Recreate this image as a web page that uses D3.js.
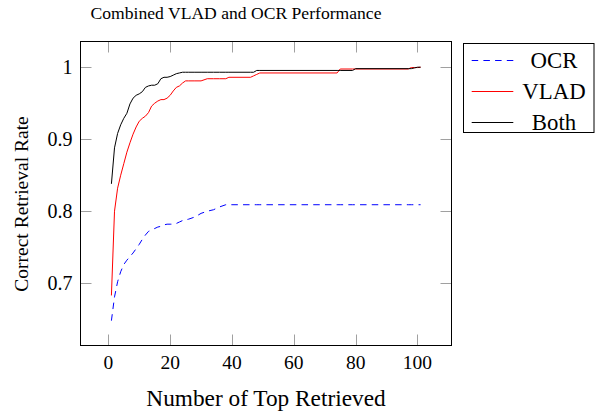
<!DOCTYPE html>
<html><head><meta charset="utf-8">
<script src="https://cdn.jsdelivr.net/npm/d3@7"></script>
<style>body{margin:0;background:#fff}svg{display:block}</style>
</head><body>
<script>
const rank = [1,2,3,4,5,6,7,8,9,10,11,12,13,14,15,16,17,18,19,20,21,22,23,24,25,26,28,30,32,34,36,38,39,46,47,48,49,74,75,79,80,97,98,99,100,101];
const ocr  = [.648,.681,.702,.716,.726,.732,.737,.742,.748,.754,.761,.767,.772,.774,.776,.778,.779,.781,.782,.782,.782,.783,.785,.787,.788,.789,.792,.797,.800,.802,.806,.809,.809,.809,.809,.809,.809,.809,.809,.809,.809,.809,.809,.809,.809,.809];
const vlad = [.683,.800,.832,.850,.866,.882,.895,.907,.917,.925,.929,.932,.937,.946,.950,.953,.955,.955,.957,.961,.967,.972,.974,.978,.981,.981,.981,.981,.984,.984,.984,.984,.986,.986,.988,.990,.992,.992,.9975,.9975,.9975,.9975,.9995,.9995,.9995,1.0];
const both = [.838,.888,.908,.920,.929,.936,.949,.957,.961,.963,.966,.972,.974,.975,.975,.977,.984,.986,.986,.987,.989,.991,.992,.993,.993,.993,.993,.993,.993,.993,.993,.993,.993,.993,.993,.9955,.9955,.9955,.9955,.9955,.998,.998,.998,.999,1.0,1.0];
const xTicks = [0,20,40,60,80,100];
const yTicks = [0.7,0.8,0.9,1];
const seriesNames = ["OCR","VLAD","Both"];
const seriesColors = ["#0000ff","#ff0000","#000000"];
const titleText = "Combined VLAD and OCR Performance";
const xLabel = "Number of Top Retrieved";
const yLabel = "Correct Retrieval Rate";

const FONT = "Liberation Serif, Times New Roman, Times, DejaVu Serif, serif";
const W=605,H=417;
const L=80.5,R=451.5,T=41.5,B=345.5;
const svg=d3.select("body").append("svg").attr("width",W).attr("height",H)
  .attr("font-family",FONT);
const x=d3.scaleLinear().domain([-9,111]).range([L,R]);
const y=d3.scaleLinear().domain([0.6135,1.0357]).range([B,T]);

const tl=11, tc="#a0a0a0";
const gx=svg.append("g");
xTicks.forEach(v=>{
  const px=Math.round(x(v))+0.5;
  gx.append("line").attr("x1",px).attr("x2",px).attr("y1",B).attr("y2",B-tl).attr("stroke",tc);
  gx.append("line").attr("x1",px).attr("x2",px).attr("y1",T).attr("y2",T+tl).attr("stroke",tc);
  gx.append("text").attr("font-family",FONT).attr("x",x(v)).attr("y",368.5).attr("text-anchor","middle").attr("font-size",19.5).text(v);
});
yTicks.forEach(v=>{
  const py=Math.round(y(v))+0.5;
  gx.append("line").attr("x1",L).attr("x2",L+tl).attr("y1",py).attr("y2",py).attr("stroke",tc);
  gx.append("line").attr("x1",R).attr("x2",R-tl).attr("y1",py).attr("y2",py).attr("stroke",tc);
  gx.append("text").attr("font-family",FONT).attr("x",72.5).attr("y",y(v)).attr("dy","0.35em").attr("text-anchor","end").attr("font-size",20).text(d3.format("")(v));
});

const line=d3.line().x((d,i)=>x(rank[i])).y(d=>y(d));
const data=[ocr,vlad,both];
data.forEach((s,k)=>{
  svg.append("path").attr("d",line(s)).attr("fill","none").attr("stroke",seriesColors[k]).attr("stroke-width",1)
    .attr("stroke-dasharray",k===0?"6.5,5.2":null);
});

svg.append("rect").attr("x",L).attr("y",T).attr("width",R-L).attr("height",B-T).attr("fill","none").attr("stroke","#000").attr("stroke-width",1);

svg.append("text").attr("font-family",FONT).attr("x",236).attr("y",19).attr("text-anchor","middle").attr("font-size",17.6).text(titleText);
svg.append("text").attr("font-family",FONT).attr("x",266).attr("y",406).attr("text-anchor","middle").attr("font-size",23.3).text(xLabel);
svg.append("text").attr("font-family",FONT).attr("transform","translate(28,204) rotate(-90)").attr("text-anchor","middle").attr("font-size",19.5).text(yLabel);

const lg=svg.append("g");
lg.append("rect").attr("x",463.5).attr("y",43.5).attr("width",130.5).attr("height",89).attr("fill","#fff").attr("stroke","#000");
const rowY=[60.5,91.5,122.5];
seriesNames.forEach((n,k)=>{
  lg.append("line").attr("x1",471.7).attr("x2",513.3).attr("y1",rowY[k]).attr("y2",rowY[k]).attr("stroke",seriesColors[k]).attr("stroke-dasharray",k===0?"6.5,5.2":null);
  lg.append("text").attr("font-family",FONT).attr("x",554).attr("y",rowY[k]).attr("dy","0.33em").attr("text-anchor","middle").attr("font-size",22.8).text(n);
});
</script>
</body></html>
